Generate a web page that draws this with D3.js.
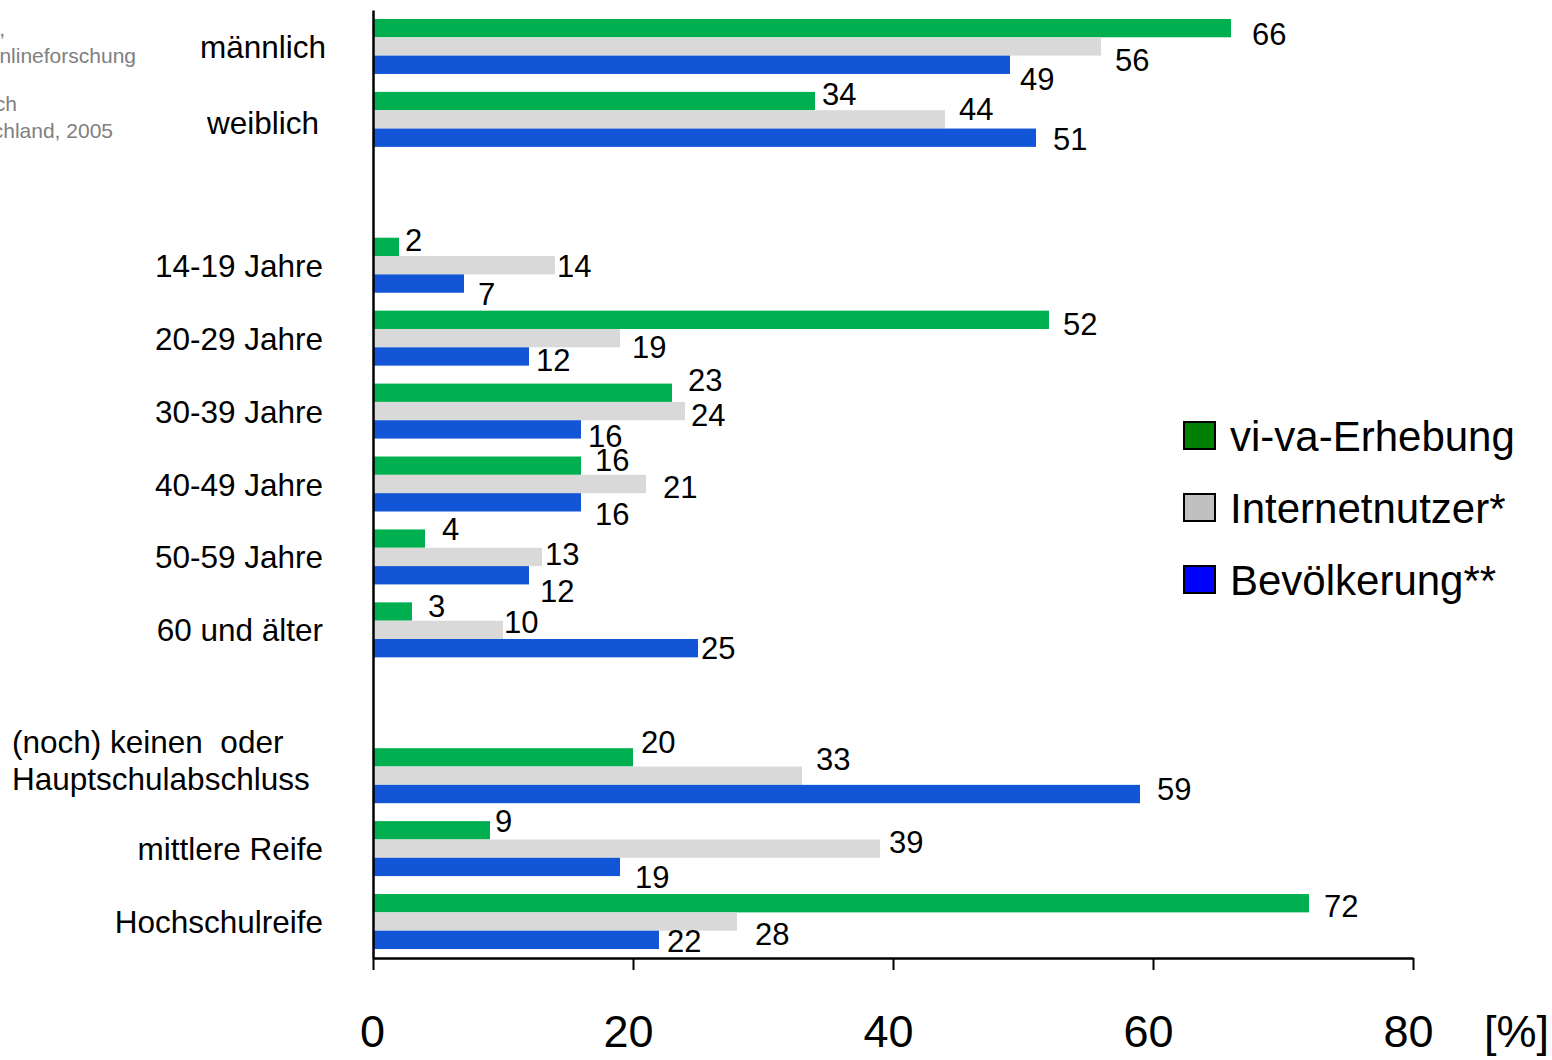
<!DOCTYPE html>
<html lang="de">
<head>
<meta charset="utf-8">
<title>vi-va-Erhebung – Soziodemografie</title>
<script src="https://cdn.jsdelivr.net/npm/d3@7"></script>
<style>
  html, body { margin: 0; padding: 0; background: #ffffff; }
  svg { display: block; font-family: "Liberation Sans", Arial, sans-serif; }
  text { white-space: pre; }
</style>
</head>
<body>
<svg id="chart" width="1552" height="1060"></svg>
<script>
// ---- data ---------------------------------------------------------------
const genderCats = ["männlich", "weiblich"];
const ageCats = ["14-19 Jahre", "20-29 Jahre", "30-39 Jahre", "40-49 Jahre", "50-59 Jahre", "60 und älter"];
const eduCats = ["(noch) keinen  oder\nHauptschulabschluss", "mittlere Reife", "Hochschulreife"];
const categories = [...genderCats, ...ageCats, ...eduCats];

const seriesNames = ["vi-va-Erhebung", "Internetnutzer*", "Bevölkerung**"];
const vivaValues = [66, 34, 2, 52, 23, 16, 4, 3, 20, 9, 72];
const internetValues = [56, 44, 14, 19, 24, 21, 13, 10, 33, 39, 28];
const populationValues = [49, 51, 7, 12, 16, 16, 12, 25, 59, 19, 22];

const xTicks = [0, 20, 40, 60, 80];
const unitLabel = "[%]";

const sourceLines = [
  "* AGOF internet facts 2005-I,",
  "Arbeitsgemeinschaft Onlineforschung",
  "** Statistisches Jahrbuch",
  "für Deutschland, 2005"
];

// ---- layout & style -----------------------------------------------------
const barColors = ["#00b050", "#d9d9d9", "#1255d6"];
const legendColors = ["#008000", "#c0c0c0", "#0000ff"];

// hand-placed value labels: offset from bar end (dx) and bar centre (dy)
const labelDx = [
  [21, 7, 6, 14, 16, 14, 17, 16, 8, 5, 15],
  [14, 14, 2, 12, 6, 17, 3, 1, 14, 9, 18],
  [10, 17, 14, 7, 7, 14, 11, 3, 17, 15, 8]
];
const labelDy = [
  [5.5, -7, -7, 4, -12.5, -6, -10, -5.5, -15, -9, 2.5],
  [13.5, -10, 1, 9, 4, 3, -3, -8, -17, -7, 12.5],
  [14.5, 1.5, 10, 4, 6.5, 12, 15.5, 0, -5, 10.5, 1]
];

const series = seriesNames.map((name, i) => ({
  name,
  values: [vivaValues, internetValues, populationValues][i]
}));

// slots: each group of categories, separated by an empty slot
const slotKeys = [...genderCats, "__gap1", ...ageCats, "__gap2", ...eduCats];

const svg = d3.select("#chart");

const x = d3.scaleLinear().domain([0, 80]).range([373, 1413]);
const y = d3.scaleBand().domain(slotKeys).range([10, 958])
  .paddingInner(0.246).paddingOuter(0.123);
const ySeries = d3.scaleBand().domain(seriesNames).range([0, y.bandwidth()]);

// ---- bars ---------------------------------------------------------------
series.forEach((s, si) => {
  svg.append("g")
    .selectAll("rect")
    .data(categories)
    .join("rect")
    .attr("x", x(0))
    .attr("y", c => y(c) + ySeries(s.name))
    .attr("width", (c, ci) => x(s.values[ci]) - x(0))
    .attr("height", ySeries.bandwidth())
    .attr("fill", barColors[si]);
});

// ---- value labels -------------------------------------------------------
series.forEach((s, si) => {
  svg.append("g")
    .selectAll("text")
    .data(categories)
    .join("text")
    .attr("x", (c, ci) => x(s.values[ci]) + labelDx[si][ci])
    .attr("y", (c, ci) => y(c) + ySeries(s.name) + ySeries.bandwidth() / 2 + labelDy[si][ci] + 11)
    .attr("font-size", 31)
    .attr("fill", "#000")
    .text((c, ci) => s.values[ci]);
});

// ---- axes ---------------------------------------------------------------
const xAxis = svg.append("g")
  .attr("transform", `translate(0,958)`)
  .call(d3.axisBottom(x).tickValues(xTicks).tickSize(12).tickPadding(45).tickSizeOuter(0));
xAxis.select(".domain").attr("stroke", "#000").attr("stroke-width", 2.5);
xAxis.selectAll(".tick line").attr("stroke", "#000").attr("stroke-width", 2);
xAxis.selectAll(".tick text")
  .attr("font-family", "Liberation Sans, Arial, sans-serif")
  .attr("font-size", 45)
  .attr("fill", "#000")
  .attr("dx", d => d === 0 ? -1 : -5);

svg.append("text")
  .attr("x", 1484)
  .attr("y", 1047)
  .attr("font-size", 45)
  .attr("fill", "#000")
  .text(unitLabel);

const yAxis = svg.append("g")
  .attr("transform", `translate(${x(0)},0)`)
  .call(d3.axisLeft(y).tickValues([]).tickSize(0).tickSizeOuter(0));
yAxis.select(".domain").attr("stroke", "#000").attr("stroke-width", 2.5);

// ---- category labels ----------------------------------------------------
const catLabels = svg.append("g").attr("font-size", 31.5).attr("fill", "#000");
categories.forEach(c => {
  const cy = y(c) + y.bandwidth() / 2;
  const lines = c.split("\n");
  let anchor = "end", lx = 323;
  if (genderCats.includes(c)) { anchor = "middle"; lx = 263; }
  if (lines.length > 1) { anchor = "start"; lx = 12; }
  const t = catLabels.append("text").attr("text-anchor", anchor);
  if (lines.length > 1) {
    lines.forEach((ln, i) => {
      t.append("tspan").attr("x", lx).attr("y", cy - 23 + i * 37).text(ln);
    });
  } else {
    t.attr("x", lx).attr("y", cy + 11.5 + (c === "weiblich" ? 3 : 0)).text(c);
  }
});

// ---- legend -------------------------------------------------------------
const legend = svg.append("g").attr("transform", "translate(1183,421)");
seriesNames.forEach((name, i) => {
  const row = legend.append("g").attr("transform", `translate(0,${i * 72})`);
  row.append("rect")
    .attr("x", 1).attr("y", 1)
    .attr("width", 31).attr("height", 27)
    .attr("fill", legendColors[i])
    .attr("stroke", "#000").attr("stroke-width", 2);
  row.append("text")
    .attr("x", 47).attr("y", 30)
    .attr("font-size", 42)
    .attr("fill", "#000")
    .text(name);
});

// ---- source note (runs off the left edge) -------------------------------
const sourceEnds = [5, 136, 17, 113];
const sourceBase = [36, 63, 111, 138];
svg.append("g")
  .attr("font-size", 21)
  .attr("fill", "#808080")
  .attr("text-anchor", "end")
  .selectAll("text")
  .data(sourceLines)
  .join("text")
  .attr("x", (d, i) => sourceEnds[i])
  .attr("y", (d, i) => sourceBase[i])
  .text(d => d);
</script>
</body>
</html>
